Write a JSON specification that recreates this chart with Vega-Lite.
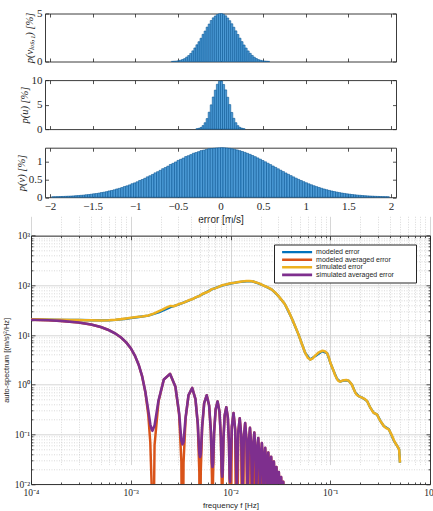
{
"$schema":"https://vega.github.io/schema/vega-lite/v6.json",
"background":"white",
"padding":{"left":2,"top":7.5,"right":0,"bottom":0},
"spacing":18.6,
"bounds":"flush",
"config":{
"view":{"stroke":null},
"legend":{"rowPadding":0.6,"clipHeight":6},
"axis":{"domainColor":"#262626","domainWidth":0.9,"tickColor":"#262626","tickWidth":0.8,"labelColor":"#262626","titleColor":"#262626","labelFont":"Liberation Serif","titleFont":"Liberation Serif","titleFontWeight":"normal","labelFlush":false,"labelOverlap":false,"grid":false}
},
"datasets":{
"h1":[{"x":-0.564,"p":0.015},{"x":-0.54,"p":0.03},{"x":-0.516,"p":0.045},{"x":-0.492,"p":0.08},{"x":-0.468,"p":0.13},{"x":-0.444,"p":0.21},{"x":-0.42,"p":0.30},{"x":-0.396,"p":0.46},{"x":-0.372,"p":0.62},{"x":-0.348,"p":0.84},{"x":-0.324,"p":1.11},{"x":-0.3,"p":1.41},{"x":-0.276,"p":1.74},{"x":-0.252,"p":2.06},{"x":-0.228,"p":2.42},{"x":-0.204,"p":2.83},{"x":-0.18,"p":3.17},{"x":-0.156,"p":3.58},{"x":-0.132,"p":3.90},{"x":-0.108,"p":4.27},{"x":-0.084,"p":4.55},{"x":-0.06,"p":4.74},{"x":-0.036,"p":4.89},{"x":-0.012,"p":4.97},{"x":0.012,"p":4.99},{"x":0.036,"p":4.91},{"x":0.06,"p":4.76},{"x":0.084,"p":4.53},{"x":0.108,"p":4.25},{"x":0.132,"p":3.93},{"x":0.156,"p":3.57},{"x":0.18,"p":3.19},{"x":0.204,"p":2.81},{"x":0.228,"p":2.43},{"x":0.252,"p":2.07},{"x":0.276,"p":1.72},{"x":0.3,"p":1.40},{"x":0.324,"p":1.10},{"x":0.348,"p":0.85},{"x":0.372,"p":0.63},{"x":0.396,"p":0.45},{"x":0.42,"p":0.31},{"x":0.444,"p":0.20},{"x":0.468,"p":0.13},{"x":0.492,"p":0.08},{"x":0.516,"p":0.05},{"x":0.54,"p":0.03},{"x":0.564,"p":0.015}],
"h2":[{"x":-0.276,"p":0.07},{"x":-0.252,"p":0.16},{"x":-0.228,"p":0.34},{"x":-0.204,"p":0.72},{"x":-0.18,"p":1.3},{"x":-0.156,"p":2.15},{"x":-0.132,"p":3.45},{"x":-0.108,"p":4.95},{"x":-0.084,"p":6.55},{"x":-0.06,"p":7.95},{"x":-0.036,"p":9.15},{"x":-0.012,"p":9.75},{"x":0.012,"p":9.8},{"x":0.036,"p":9.1},{"x":0.06,"p":8.0},{"x":0.084,"p":6.5},{"x":0.108,"p":5.0},{"x":0.132,"p":3.4},{"x":0.156,"p":2.2},{"x":0.18,"p":1.3},{"x":0.204,"p":0.7},{"x":0.228,"p":0.35},{"x":0.252,"p":0.17},{"x":0.276,"p":0.07}],
"h3":[{"x":-1.965,"p":0.012},{"x":-1.935,"p":0.014},{"x":-1.905,"p":0.016},{"x":-1.875,"p":0.019},{"x":-1.845,"p":0.021},{"x":-1.815,"p":0.025},{"x":-1.785,"p":0.028},{"x":-1.755,"p":0.032},{"x":-1.725,"p":0.036},{"x":-1.695,"p":0.043},{"x":-1.665,"p":0.047},{"x":-1.635,"p":0.053},{"x":-1.605,"p":0.059},{"x":-1.575,"p":0.069},{"x":-1.545,"p":0.075},{"x":-1.515,"p":0.084},{"x":-1.485,"p":0.096},{"x":-1.455,"p":0.104},{"x":-1.425,"p":0.116},{"x":-1.395,"p":0.131},{"x":-1.365,"p":0.142},{"x":-1.335,"p":0.157},{"x":-1.305,"p":0.177},{"x":-1.275,"p":0.190},{"x":-1.245,"p":0.209},{"x":-1.215,"p":0.233},{"x":-1.185,"p":0.250},{"x":-1.155,"p":0.273},{"x":-1.125,"p":0.301},{"x":-1.095,"p":0.322},{"x":-1.065,"p":0.348},{"x":-1.035,"p":0.381},{"x":-1.005,"p":0.405},{"x":-0.975,"p":0.436},{"x":-0.945,"p":0.473},{"x":-0.915,"p":0.501},{"x":-0.885,"p":0.535},{"x":-0.855,"p":0.576},{"x":-0.825,"p":0.607},{"x":-0.795,"p":0.644},{"x":-0.765,"p":0.688},{"x":-0.735,"p":0.721},{"x":-0.705,"p":0.760},{"x":-0.675,"p":0.806},{"x":-0.645,"p":0.839},{"x":-0.615,"p":0.878},{"x":-0.585,"p":0.925},{"x":-0.555,"p":0.957},{"x":-0.525,"p":0.996},{"x":-0.495,"p":1.041},{"x":-0.465,"p":1.071},{"x":-0.435,"p":1.106},{"x":-0.405,"p":1.149},{"x":-0.375,"p":1.174},{"x":-0.345,"p":1.205},{"x":-0.315,"p":1.243},{"x":-0.285,"p":1.263},{"x":-0.255,"p":1.288},{"x":-0.225,"p":1.318},{"x":-0.195,"p":1.331},{"x":-0.165,"p":1.349},{"x":-0.135,"p":1.371},{"x":-0.105,"p":1.378},{"x":-0.075,"p":1.384},{"x":-0.045,"p":1.392},{"x":-0.015,"p":1.396},{"x":0.015,"p":1.400},{"x":0.045,"p":1.397},{"x":0.075,"p":1.390},{"x":0.105,"p":1.381},{"x":0.135,"p":1.369},{"x":0.165,"p":1.354},{"x":0.195,"p":1.337},{"x":0.225,"p":1.316},{"x":0.255,"p":1.293},{"x":0.285,"p":1.268},{"x":0.315,"p":1.240},{"x":0.345,"p":1.211},{"x":0.375,"p":1.179},{"x":0.405,"p":1.146},{"x":0.435,"p":1.111},{"x":0.465,"p":1.075},{"x":0.495,"p":1.038},{"x":0.525,"p":1.000},{"x":0.555,"p":0.961},{"x":0.585,"p":0.922},{"x":0.615,"p":0.882},{"x":0.645,"p":0.843},{"x":0.675,"p":0.803},{"x":0.705,"p":0.763},{"x":0.735,"p":0.724},{"x":0.765,"p":0.685},{"x":0.795,"p":0.647},{"x":0.825,"p":0.610},{"x":0.855,"p":0.574},{"x":0.885,"p":0.538},{"x":0.915,"p":0.504},{"x":0.945,"p":0.471},{"x":0.975,"p":0.439},{"x":1.005,"p":0.408},{"x":1.035,"p":0.379},{"x":1.065,"p":0.351},{"x":1.095,"p":0.324},{"x":1.125,"p":0.299},{"x":1.155,"p":0.275},{"x":1.185,"p":0.252},{"x":1.215,"p":0.231},{"x":1.245,"p":0.211},{"x":1.275,"p":0.192},{"x":1.305,"p":0.175},{"x":1.335,"p":0.159},{"x":1.365,"p":0.144},{"x":1.395,"p":0.130},{"x":1.425,"p":0.117},{"x":1.455,"p":0.106},{"x":1.485,"p":0.095},{"x":1.515,"p":0.085},{"x":1.545,"p":0.076},{"x":1.575,"p":0.068},{"x":1.605,"p":0.060},{"x":1.635,"p":0.054},{"x":1.665,"p":0.048},{"x":1.695,"p":0.042},{"x":1.725,"p":0.037},{"x":1.755,"p":0.033},{"x":1.785,"p":0.029},{"x":1.815,"p":0.025},{"x":1.845,"p":0.022},{"x":1.875,"p":0.019},{"x":1.905,"p":0.017},{"x":1.935,"p":0.015},{"x":1.965,"p":0.013}],
"spec":[
{"s":"A","f":0.0001,"v":20.5},{"s":"A","f":0.00015,"v":20.35},{"s":"A","f":0.0002,"v":20.2},{"s":"A","f":0.0003,"v":20.0},{"s":"A","f":0.0004,"v":19.8},{"s":"A","f":0.0005,"v":19.75},{"s":"A","f":0.0006,"v":19.85},{"s":"A","f":0.0007,"v":20.2},{"s":"A","f":0.0008,"v":20.7},{"s":"A","f":0.0009,"v":21.3},{"s":"A","f":0.001,"v":21.9},{"s":"A","f":0.0012,"v":23.0},{"s":"A","f":0.0015,"v":24.6},{"s":"A","f":0.0019,"v":28.5},{"s":"A","f":0.0022,"v":32.5},{"s":"A","f":0.0025,"v":36.5},{"s":"A","f":0.003,"v":41},{"s":"A","f":0.0038,"v":49},{"s":"A","f":0.0045,"v":57},{"s":"A","f":0.0052,"v":66},{"s":"A","f":0.0065,"v":83},{"s":"A","f":0.0082,"v":99},{"s":"A","f":0.01,"v":109},{"s":"A","f":0.012,"v":116},{"s":"A","f":0.0145,"v":121},{"s":"A","f":0.0165,"v":121},{"s":"A","f":0.019,"v":110},{"s":"A","f":0.022,"v":97},{"s":"A","f":0.026,"v":82},{"s":"A","f":0.03,"v":62},{"s":"A","f":0.035,"v":42},{"s":"A","f":0.041,"v":22},{"s":"A","f":0.048,"v":10.3},{"s":"A","f":0.056,"v":4.4},{"s":"A","f":0.063,"v":3.2},{"s":"A","f":0.071,"v":3.8},{"s":"A","f":0.083,"v":4.7},{"s":"A","f":0.093,"v":4.3},{"s":"A","f":0.1,"v":2.8},{"s":"A","f":0.108,"v":1.9},{"s":"A","f":0.117,"v":1.3},{"s":"A","f":0.126,"v":1.15},{"s":"A","f":0.137,"v":1.22},{"s":"A","f":0.153,"v":1.2},{"s":"A","f":0.165,"v":1.0},{"s":"A","f":0.178,"v":0.7},{"s":"A","f":0.193,"v":0.59},{"s":"A","f":0.208,"v":0.55},{"s":"A","f":0.234,"v":0.47},{"s":"A","f":0.253,"v":0.34},{"s":"A","f":0.273,"v":0.27},{"s":"A","f":0.295,"v":0.25},{"s":"A","f":0.319,"v":0.185},{"s":"A","f":0.344,"v":0.147},{"s":"A","f":0.387,"v":0.126},{"s":"A","f":0.436,"v":0.073},{"s":"A","f":0.47,"v":0.058},{"s":"A","f":0.49,"v":0.05},{"s":"A","f":0.5,"v":0.027},
{"s":"B","f":0.0001,"v":20.25},{"s":"B","f":0.00015,"v":19.8},{"s":"B","f":0.0002,"v":19.24},{"s":"B","f":0.0003,"v":17.92},{"s":"B","f":0.0004,"v":16.25},{"s":"B","f":0.0005,"v":14.51},{"s":"B","f":0.0006,"v":12.62},{"s":"B","f":0.0007,"v":10.74},{"s":"B","f":0.0008,"v":8.9},{"s":"B","f":0.0009,"v":7.11},{"s":"B","f":0.001,"v":5.42},{"s":"B","f":0.0011,"v":3.85},{"s":"B","f":0.0012,"v":2.52},{"s":"B","f":0.0013,"v":1.472},{"s":"B","f":0.0014,"v":0.715},{"s":"B","f":0.0015,"v":0.241},{"s":"B","f":0.00157,"v":0.0684},{"s":"B","f":0.00162,"v":0.00942},{"s":"B","f":0.00165,"v":0.00001},
{"s":"B","f":0.0017325,"v":0.0607},{"s":"B","f":0.0018975,"v":0.458},{"s":"B","f":0.002145,"v":1.267},{"s":"B","f":0.002475,"v":1.653},{"s":"B","f":0.002805,"v":0.906},{"s":"B","f":0.0030525,"v":0.2526},{"s":"B","f":0.0032175,"v":0.028},{"s":"B","f":0.0033,"v":0.00001},
{"s":"B","f":0.0033825,"v":0.0266},{"s":"B","f":0.0035475,"v":0.21},{"s":"B","f":0.003795,"v":0.614},{"s":"B","f":0.004125,"v":0.859},{"s":"B","f":0.004455,"v":0.514},{"s":"B","f":0.0047025,"v":0.153},{"s":"B","f":0.0048675,"v":0.0175},{"s":"B","f":0.00495,"v":0.00001},
{"s":"B","f":0.0050325,"v":0.01706},{"s":"B","f":0.0051975,"v":0.1389},{"s":"B","f":0.005445,"v":0.4232},{"s":"B","f":0.005775,"v":0.612},{"s":"B","f":0.006105,"v":0.38},{"s":"B","f":0.0063525,"v":0.1148},{"s":"B","f":0.0065175,"v":0.01319},{"s":"B","f":0.0066,"v":0.00001},
{"s":"B","f":0.0066825,"v":0.01278},{"s":"B","f":0.0068475,"v":0.1043},{"s":"B","f":0.007095,"v":0.3192},{"s":"B","f":0.007425,"v":0.4603},{"s":"B","f":0.007755,"v":0.2852},{"s":"B","f":0.0080025,"v":0.0866},{"s":"B","f":0.0081675,"v":0.01002},{"s":"B","f":0.00825,"v":0.00001},
{"s":"B","f":0.0083325,"v":0.00972},{"s":"B","f":0.0084975,"v":0.0795},{"s":"B","f":0.008745,"v":0.2432},{"s":"B","f":0.009075,"v":0.3517},{"s":"B","f":0.009405,"v":0.2174},{"s":"B","f":0.0096525,"v":0.0656},{"s":"B","f":0.0098175,"v":0.0076},{"s":"B","f":0.0099,"v":0.00001},
{"s":"B","f":0.0103125,"v":0.1427},{"s":"B","f":0.010725,"v":0.2686},{"s":"B","f":0.0111375,"v":0.1262},{"s":"B","f":0.01155,"v":0.00001},
{"s":"B","f":0.0119625,"v":0.1118},{"s":"B","f":0.012375,"v":0.2107},{"s":"B","f":0.0127875,"v":0.0995},{"s":"B","f":0.0132,"v":0.00001},
{"s":"B","f":0.0136125,"v":0.089},{"s":"B","f":0.014025,"v":0.169},{"s":"B","f":0.0144375,"v":0.0801},{"s":"B","f":0.01485,"v":0.00001},
{"s":"B","f":0.0152625,"v":0.0716},{"s":"B","f":0.015675,"v":0.1358},{"s":"B","f":0.0160875,"v":0.0645},{"s":"B","f":0.0165,"v":0.00001},
{"s":"B","f":0.0169125,"v":0.0579},{"s":"B","f":0.017325,"v":0.1084},{"s":"B","f":0.0177375,"v":0.0509},{"s":"B","f":0.01815,"v":0.00001},
{"s":"B","f":0.0185625,"v":0.0448},{"s":"B","f":0.018975,"v":0.0843},{"s":"B","f":0.0193875,"v":0.0396},{"s":"B","f":0.0198,"v":0.00001},
{"s":"B","f":0.0202125,"v":0.0354},{"s":"B","f":0.020625,"v":0.0668},{"s":"B","f":0.0210375,"v":0.0315},{"s":"B","f":0.02145,"v":0.00001},
{"s":"B","f":0.0218625,"v":0.0283},{"s":"B","f":0.022275,"v":0.0534},{"s":"B","f":0.0226875,"v":0.0252},{"s":"B","f":0.0231,"v":0.00001},
{"s":"B","f":0.0235125,"v":0.0227},{"s":"B","f":0.023925,"v":0.0429},{"s":"B","f":0.0243375,"v":0.0204},{"s":"B","f":0.02475,"v":0.00001},
{"s":"B","f":0.0251625,"v":0.0186},{"s":"B","f":0.025575,"v":0.0352},{"s":"B","f":0.0259875,"v":0.0166},{"s":"B","f":0.0264,"v":0.00001},
{"s":"B","f":0.0268125,"v":0.0151},{"s":"B","f":0.027225,"v":0.0283},{"s":"B","f":0.0276375,"v":0.0132},{"s":"B","f":0.02805,"v":0.00001},
{"s":"B","f":0.0284625,"v":0.01175},{"s":"B","f":0.028875,"v":0.022},{"s":"B","f":0.0292875,"v":0.01029},{"s":"B","f":0.0297,"v":0.00001},
{"s":"B","f":0.0301125,"v":0.00928},{"s":"B","f":0.030525,"v":0.01747},{"s":"B","f":0.0309375,"v":0.00821},{"s":"B","f":0.03135,"v":0.00001},
{"s":"B","f":0.0317625,"v":0.00738},{"s":"B","f":0.032175,"v":0.01386},{"s":"B","f":0.0325875,"v":0.00649},{"s":"B","f":0.033,"v":0.00001},
{"s":"B","f":0.0334125,"v":0.00593},{"s":"B","f":0.033825,"v":0.01109},{"s":"B","f":0.0342375,"v":0.00518},{"s":"B","f":0.03465,"v":0.00001},
{"s":"C","f":0.0001,"v":20.7},{"s":"C","f":0.00013,"v":20.5},{"s":"C","f":0.00017,"v":20.4},{"s":"C","f":0.0002,"v":20.3},{"s":"C","f":0.00025,"v":20.1},{"s":"C","f":0.0003,"v":20.0},{"s":"C","f":0.00035,"v":19.9},{"s":"C","f":0.0004,"v":19.9},{"s":"C","f":0.0005,"v":19.7},{"s":"C","f":0.0006,"v":19.9},{"s":"C","f":0.0007,"v":20.3},{"s":"C","f":0.0008,"v":20.9},{"s":"C","f":0.0009,"v":21.6},{"s":"C","f":0.001,"v":22.3},{"s":"C","f":0.0011,"v":22.8},{"s":"C","f":0.0012,"v":23.3},{"s":"C","f":0.0013,"v":23.6},{"s":"C","f":0.0015,"v":24.8},{"s":"C","f":0.0017,"v":27.0},{"s":"C","f":0.0019,"v":30.0},{"s":"C","f":0.0021,"v":33.0},{"s":"C","f":0.0023,"v":36.0},{"s":"C","f":0.0025,"v":38.5},{"s":"C","f":0.0027,"v":38.0},{"s":"C","f":0.003,"v":41.5},{"s":"C","f":0.0034,"v":45},{"s":"C","f":0.0038,"v":50},{"s":"C","f":0.0042,"v":53},{"s":"C","f":0.0045,"v":58},{"s":"C","f":0.0049,"v":61},{"s":"C","f":0.0052,"v":67},{"s":"C","f":0.0057,"v":72},{"s":"C","f":0.0061,"v":76},{"s":"C","f":0.0065,"v":84},{"s":"C","f":0.007,"v":87},{"s":"C","f":0.0075,"v":92},{"s":"C","f":0.0082,"v":100},{"s":"C","f":0.009,"v":104},{"s":"C","f":0.01,"v":110},{"s":"C","f":0.011,"v":113},{"s":"C","f":0.012,"v":117},{"s":"C","f":0.013,"v":119},{"s":"C","f":0.0145,"v":122},{"s":"C","f":0.0155,"v":123},{"s":"C","f":0.0165,"v":121},{"s":"C","f":0.0175,"v":117},{"s":"C","f":0.019,"v":111},{"s":"C","f":0.0205,"v":104},{"s":"C","f":0.022,"v":97},{"s":"C","f":0.024,"v":90},{"s":"C","f":0.026,"v":82},{"s":"C","f":0.028,"v":72},{"s":"C","f":0.03,"v":62},{"s":"C","f":0.0325,"v":51},{"s":"C","f":0.035,"v":42},{"s":"C","f":0.038,"v":31},{"s":"C","f":0.041,"v":22},{"s":"C","f":0.0445,"v":15},{"s":"C","f":0.048,"v":10.3},{"s":"C","f":0.052,"v":6.6},{"s":"C","f":0.056,"v":4.4},{"s":"C","f":0.0595,"v":3.5},{"s":"C","f":0.063,"v":3.2},{"s":"C","f":0.067,"v":3.4},{"s":"C","f":0.071,"v":3.9},{"s":"C","f":0.076,"v":4.4},{"s":"C","f":0.083,"v":4.8},{"s":"C","f":0.088,"v":4.7},{"s":"C","f":0.093,"v":4.3},{"s":"C","f":0.097,"v":3.5},{"s":"C","f":0.1,"v":2.8},{"s":"C","f":0.104,"v":2.3},{"s":"C","f":0.108,"v":1.9},{"s":"C","f":0.112,"v":1.55},{"s":"C","f":0.117,"v":1.3},{"s":"C","f":0.121,"v":1.18},{"s":"C","f":0.126,"v":1.15},{"s":"C","f":0.131,"v":1.2},{"s":"C","f":0.137,"v":1.23},{"s":"C","f":0.145,"v":1.24},{"s":"C","f":0.153,"v":1.2},{"s":"C","f":0.159,"v":1.1},{"s":"C","f":0.165,"v":1.0},{"s":"C","f":0.171,"v":0.84},{"s":"C","f":0.178,"v":0.7},{"s":"C","f":0.185,"v":0.62},{"s":"C","f":0.193,"v":0.59},{"s":"C","f":0.2,"v":0.57},{"s":"C","f":0.208,"v":0.55},{"s":"C","f":0.22,"v":0.52},{"s":"C","f":0.234,"v":0.47},{"s":"C","f":0.243,"v":0.4},{"s":"C","f":0.253,"v":0.34},{"s":"C","f":0.263,"v":0.3},{"s":"C","f":0.273,"v":0.27},{"s":"C","f":0.284,"v":0.26},{"s":"C","f":0.295,"v":0.25},{"s":"C","f":0.307,"v":0.21},{"s":"C","f":0.319,"v":0.185},{"s":"C","f":0.331,"v":0.165},{"s":"C","f":0.344,"v":0.147},{"s":"C","f":0.36,"v":0.135},{"s":"C","f":0.374,"v":0.13},{"s":"C","f":0.387,"v":0.125},{"s":"C","f":0.41,"v":0.1},{"s":"C","f":0.436,"v":0.075},{"s":"C","f":0.455,"v":0.064},{"s":"C","f":0.47,"v":0.058},{"s":"C","f":0.49,"v":0.05},{"s":"C","f":0.5,"v":0.027},
{"s":"D","f":0.0001,"v":20.25},{"s":"D","f":0.00015,"v":19.8},{"s":"D","f":0.0002,"v":19.24},{"s":"D","f":0.0003,"v":17.92},{"s":"D","f":0.0004,"v":16.25},{"s":"D","f":0.0005,"v":14.51},{"s":"D","f":0.0006,"v":12.62},{"s":"D","f":0.0007,"v":10.74},{"s":"D","f":0.0008,"v":8.9},{"s":"D","f":0.0009,"v":7.11},{"s":"D","f":0.001,"v":5.42},{"s":"D","f":0.0011,"v":3.85},{"s":"D","f":0.0012,"v":2.52},{"s":"D","f":0.0013,"v":1.48},{"s":"D","f":0.0014,"v":0.72},{"s":"D","f":0.0015,"v":0.3},{"s":"D","f":0.00157,"v":0.16},{"s":"D","f":0.00162,"v":0.125},{"s":"D","f":0.00165,"v":0.118},{"s":"D","f":0.0017325,"v":0.15},{"s":"D","f":0.0018975,"v":0.48},{"s":"D","f":0.002145,"v":1.267},{"s":"D","f":0.002475,"v":1.653},{"s":"D","f":0.002805,"v":0.906},{"s":"D","f":0.0030525,"v":0.27},{"s":"D","f":0.0032175,"v":0.075},{"s":"D","f":0.0033,"v":0.063},{"s":"D","f":0.0033825,"v":0.07},{"s":"D","f":0.0035475,"v":0.22},{"s":"D","f":0.003795,"v":0.614},{"s":"D","f":0.004125,"v":0.859},{"s":"D","f":0.004455,"v":0.514},{"s":"D","f":0.0047025,"v":0.16},{"s":"D","f":0.0048675,"v":0.042},{"s":"D","f":0.00495,"v":0.035},{"s":"D","f":0.0050325,"v":0.04},{"s":"D","f":0.0051975,"v":0.145},{"s":"D","f":0.005445,"v":0.4232},{"s":"D","f":0.005775,"v":0.612},{"s":"D","f":0.006105,"v":0.38},{"s":"D","f":0.0063525,"v":0.12},{"s":"D","f":0.0065175,"v":0.027},{"s":"D","f":0.0066,"v":0.022},{"s":"D","f":0.0066825,"v":0.026},{"s":"D","f":0.0068475,"v":0.108},{"s":"D","f":0.007095,"v":0.3192},{"s":"D","f":0.007425,"v":0.4603},{"s":"D","f":0.007755,"v":0.2852},{"s":"D","f":0.0080025,"v":0.09},{"s":"D","f":0.0081675,"v":0.018},{"s":"D","f":0.00825,"v":0.014},{"s":"D","f":0.0083325,"v":0.017},{"s":"D","f":0.0084975,"v":0.082},{"s":"D","f":0.008745,"v":0.2432},{"s":"D","f":0.009075,"v":0.3517},{"s":"D","f":0.009405,"v":0.2174},{"s":"D","f":0.0096525,"v":0.068},{"s":"D","f":0.0098175,"v":0.013},{"s":"D","f":0.0099,"v":0.011},
{"s":"D","f":0.0103125,"v":0.1427},{"s":"D","f":0.010725,"v":0.2686},{"s":"D","f":0.0111375,"v":0.1262},{"s":"D","f":0.01155,"v":0.008},
{"s":"D","f":0.0119625,"v":0.1118},{"s":"D","f":0.012375,"v":0.2107},{"s":"D","f":0.0127875,"v":0.0995},{"s":"D","f":0.0132,"v":0.007},
{"s":"D","f":0.0136125,"v":0.089},{"s":"D","f":0.014025,"v":0.169},{"s":"D","f":0.0144375,"v":0.0801},{"s":"D","f":0.01485,"v":0.007},
{"s":"D","f":0.0152625,"v":0.0716},{"s":"D","f":0.015675,"v":0.1358},{"s":"D","f":0.0160875,"v":0.0645},{"s":"D","f":0.0165,"v":0.007},
{"s":"D","f":0.0169125,"v":0.0579},{"s":"D","f":0.017325,"v":0.1084},{"s":"D","f":0.0177375,"v":0.0509},{"s":"D","f":0.01815,"v":0.007},
{"s":"D","f":0.0185625,"v":0.0448},{"s":"D","f":0.018975,"v":0.0843},{"s":"D","f":0.0193875,"v":0.0396},{"s":"D","f":0.0198,"v":0.007},
{"s":"D","f":0.0202125,"v":0.0354},{"s":"D","f":0.020625,"v":0.0668},{"s":"D","f":0.0210375,"v":0.0315},{"s":"D","f":0.02145,"v":0.007},
{"s":"D","f":0.0218625,"v":0.0283},{"s":"D","f":0.022275,"v":0.0534},{"s":"D","f":0.0226875,"v":0.0252},{"s":"D","f":0.0231,"v":0.007},
{"s":"D","f":0.0235125,"v":0.0227},{"s":"D","f":0.023925,"v":0.0429},{"s":"D","f":0.0243375,"v":0.0204},{"s":"D","f":0.02475,"v":0.007},
{"s":"D","f":0.0251625,"v":0.0186},{"s":"D","f":0.025575,"v":0.0352},{"s":"D","f":0.0259875,"v":0.0166},{"s":"D","f":0.0264,"v":0.007},
{"s":"D","f":0.0268125,"v":0.0151},{"s":"D","f":0.027225,"v":0.0283},{"s":"D","f":0.0276375,"v":0.0132},{"s":"D","f":0.02805,"v":0.007},
{"s":"D","f":0.0284625,"v":0.01175},{"s":"D","f":0.028875,"v":0.022},{"s":"D","f":0.0292875,"v":0.01029},{"s":"D","f":0.0297,"v":0.007},
{"s":"D","f":0.0301125,"v":0.00928},{"s":"D","f":0.030525,"v":0.01747},{"s":"D","f":0.0309375,"v":0.00821},{"s":"D","f":0.03135,"v":0.007},
{"s":"D","f":0.0317625,"v":0.00738},{"s":"D","f":0.032175,"v":0.01386},{"s":"D","f":0.0325875,"v":0.00649},{"s":"D","f":0.033,"v":0.006},
{"s":"D","f":0.0334125,"v":0.00593},{"s":"D","f":0.033825,"v":0.01109},{"s":"D","f":0.0342375,"v":0.00518},{"s":"D","f":0.03465,"v":0.005}
]
},
"vconcat":[
{
"width":365,"height":48,
"data":{"name":"h1"},
"layer":[
{"mark":{"type":"bar","orient":"vertical","width":2.1,"fill":"#4d9bd6","stroke":"#0a5796","strokeWidth":0.6},
"encoding":{
"x":{"field":"x","type":"quantitative","scale":{"domain":[-2,2],"nice":false,"zero":false,"range":[14,365]},"axis":{"orient":"bottom","values":[-2,-1.5,-1,-0.5,0,0.5,1,1.5,2],"labels":false,"tickSize":-3.5,"title":null}},
"y":{"field":"p","type":"quantitative","scale":{"domain":[0,5],"nice":false},"axis":{"orient":"left","offset":-14,"values":[0,5],"labelExpr":"datum.value+''","tickSize":-3.5,"labelFontSize":11,"labelPadding":6.5,"title":"p(vₗₒₛ,₁) [%]","titleFontSize":10.5,"titleFontStyle":"italic","titlePadding":2}}
}},
{"mark":{"type":"point","opacity":0},
"encoding":{
"x":{"field":"x","type":"quantitative","scale":{"domain":[-2,2],"nice":false,"zero":false,"range":[14,365]},"axis":{"orient":"top","values":[-2,-1.5,-1,-0.5,0,0.5,1,1.5,2],"labels":false,"tickSize":-3.5,"title":null}},
"y":{"field":"p","type":"quantitative","scale":{"domain":[0,5],"nice":false},"axis":{"orient":"right","values":[0,5],"labels":false,"tickSize":-3.5,"title":null}}
}}
],
"resolve":{"axis":{"x":"independent","y":"independent"}}
},
{
"width":365,"height":49,
"data":{"name":"h2"},
"layer":[
{"mark":{"type":"bar","orient":"vertical","width":2.1,"fill":"#4d9bd6","stroke":"#0a5796","strokeWidth":0.6},
"encoding":{
"x":{"field":"x","type":"quantitative","scale":{"domain":[-2,2],"nice":false,"zero":false,"range":[14,365]},"axis":{"orient":"bottom","values":[-2,-1.5,-1,-0.5,0,0.5,1,1.5,2],"labels":false,"tickSize":-3.5,"title":null}},
"y":{"field":"p","type":"quantitative","scale":{"domain":[0,10],"nice":false},"axis":{"orient":"left","offset":-14,"values":[0,5,10],"labelExpr":"datum.value+''","tickSize":-3.5,"labelFontSize":11,"labelPadding":6.5,"title":"p(u) [%]","titleFontSize":10.5,"titleFontStyle":"italic","titlePadding":2}}
}},
{"mark":{"type":"point","opacity":0},
"encoding":{
"x":{"field":"x","type":"quantitative","scale":{"domain":[-2,2],"nice":false,"zero":false,"range":[14,365]},"axis":{"orient":"top","values":[-2,-1.5,-1,-0.5,0,0.5,1,1.5,2],"labels":false,"tickSize":-3.5,"title":null}},
"y":{"field":"p","type":"quantitative","scale":{"domain":[0,10],"nice":false},"axis":{"orient":"right","values":[0,5,10],"labels":false,"tickSize":-3.5,"title":null}}
}}
],
"resolve":{"axis":{"x":"independent","y":"independent"}}
},
{
"width":365,"height":49.5,
"data":{"name":"h3"},
"layer":[
{"mark":{"type":"bar","orient":"vertical","width":2.6,"fill":"#4d9bd6","stroke":"#0a5796","strokeWidth":0.6},
"encoding":{
"x":{"field":"x","type":"quantitative","scale":{"domain":[-2,2],"nice":false,"zero":false,"range":[14,365]},"axis":{"orient":"bottom","values":[-2,-1.5,-1,-0.5,0,0.5,1,1.5,2],"labelExpr":"replace(datum.value+'','-','−')","labelFontSize":11,"labelPadding":6.8,"tickSize":-3.5,"title":"error [m/s]","titleFont":"Liberation Sans","titleFontSize":10,"titlePadding":3}},
"y":{"field":"p","type":"quantitative","scale":{"domain":[0,1.4],"nice":false},"axis":{"orient":"left","offset":-14,"values":[0,0.5,1],"labelExpr":"datum.value+''","tickSize":-3.5,"labelFontSize":11,"labelPadding":6.5,"title":"p(v) [%]","titleFontSize":10.5,"titleFontStyle":"italic","titlePadding":2}}
}},
{"mark":{"type":"point","opacity":0},
"encoding":{
"x":{"field":"x","type":"quantitative","scale":{"domain":[-2,2],"nice":false,"zero":false,"range":[14,365]},"axis":{"orient":"top","values":[-2,-1.5,-1,-0.5,0,0.5,1,1.5,2],"labels":false,"tickSize":-3.5,"title":null}},
"y":{"field":"p","type":"quantitative","scale":{"domain":[0,1.4],"nice":false},"axis":{"orient":"right","values":[0,0.5,1],"labels":false,"tickSize":-3.5,"title":null}}
}}
],
"resolve":{"axis":{"x":"independent","y":"independent"}}
},
{
"width":399,"height":267.7,
"data":{"name":"spec"},
"layer":[
{"mark":{"type":"line","clip":true,"strokeJoin":"round"},
"encoding":{
"x":{"field":"f","type":"quantitative","scale":{"type":"log","domain":[0.0001,1],"nice":false},"axis":{"orient":"bottom","values":[0.0001,0.0002,0.0003,0.0004,0.0005,0.0006,0.0007,0.0008,0.0009,0.001,0.002,0.003,0.004,0.005,0.006,0.007,0.008,0.009,0.01,0.02,0.03,0.04,0.05,0.06,0.07,0.08,0.09,0.1,0.2,0.3,0.4,0.5,0.6,0.7,0.8,0.9,1],"labelExpr":"datum.value==0.0001?'10⁻⁴':datum.value==0.001?'10⁻³':datum.value==0.01?'10⁻²':datum.value==0.1?'10⁻¹':datum.value==1?'10⁰':''","labelFontSize":9.5,"labelPadding":7.5,"tickSize":{"condition":{"test":"indexof([0.0001,0.001,0.01,0.1,1],datum.value)>=0","value":-4},"value":-2},"grid":true,"gridColor":{"condition":{"test":"indexof([0.0001,0.001,0.01,0.1,1],datum.value)>=0","value":"#d6d6d6"},"value":"#c8c8c8"},"gridDash":{"condition":{"test":"indexof([0.0001,0.001,0.01,0.1,1],datum.value)>=0","value":[]},"value":[1,1.5]},"gridWidth":{"condition":{"test":"indexof([0.0001,0.001,0.01,0.1,1],datum.value)>=0","value":1},"value":0.7},"title":"frequency f [Hz]","titleFont":"Liberation Sans","titleFontSize":8,"titlePadding":2}},
"y":{"field":"v","type":"quantitative","scale":{"type":"log","domain":[0.01,1000],"nice":false,"range":[267.7,19.4]},"axis":{"orient":"left","values":[0.01,0.02,0.03,0.04,0.05,0.06,0.07,0.08,0.09,0.1,0.2,0.3,0.4,0.5,0.6,0.7,0.8,0.9,1,2,3,4,5,6,7,8,9,10,20,30,40,50,60,70,80,90,100,200,300,400,500,600,700,800,900,1000],"labelExpr":"datum.value==0.01?'10⁻²':datum.value==0.1?'10⁻¹':datum.value==1?'10⁰':datum.value==10?'10¹':datum.value==100?'10²':datum.value==1000?'10³':''","labelFontSize":9.5,"labelPadding":5.5,"tickSize":{"condition":{"test":"indexof([0.01,0.1,1,10,100,1000],datum.value)>=0","value":-4},"value":-2},"grid":true,"gridColor":{"condition":{"test":"indexof([0.01,0.1,1,10,100,1000],datum.value)>=0","value":"#d6d6d6"},"value":"#c8c8c8"},"gridDash":{"condition":{"test":"indexof([0.01,0.1,1,10,100,1000],datum.value)>=0","value":[]},"value":[1,1.5]},"gridWidth":{"condition":{"test":"indexof([0.01,0.1,1,10,100,1000],datum.value)>=0","value":1},"value":0.7},"title":"auto-spectrum [(m/s)²/Hz]","titleFont":"Liberation Sans","titleFontSize":7.5,"titlePadding":4}},
"color":{"field":"s","type":"nominal","scale":{"domain":["A","B","C","D"],"range":["#0072BD","#D95319","#EDB120","#7E2F8E"]},"legend":{"title":"MMM","titleOrient":"right","titleFontSize":6.8,"titleOpacity":0,"titlePadding":0,"orient":"none","legendX":243,"legendY":231,"fillColor":"white","strokeColor":"#262626","padding":4.6,"symbolType":"M0,0H30","symbolSize":4,"symbolStrokeWidth":2.5,"labelFont":"Liberation Sans","labelFontSize":7,"labelColor":"#262626","labelOffset":30.5,"rowPadding":0.6,"clipHeight":6,"labelExpr":"datum.label=='A'?'modeled error':datum.label=='B'?'modeled averaged error':datum.label=='C'?'simulated error':'simulated averaged error'"}},
"strokeWidth":{"field":"s","type":"nominal","scale":{"domain":["A","B","C","D"],"range":[2.4,2.6,3,2.6]},"legend":null}
}},
{"mark":{"type":"point","opacity":0,"clip":true},
"encoding":{
"x":{"field":"f","type":"quantitative","scale":{"type":"log","domain":[0.0001,1],"nice":false},"axis":{"orient":"top","offset":-19.4,"values":[0.0001,0.0002,0.0003,0.0004,0.0005,0.0006,0.0007,0.0008,0.0009,0.001,0.002,0.003,0.004,0.005,0.006,0.007,0.008,0.009,0.01,0.02,0.03,0.04,0.05,0.06,0.07,0.08,0.09,0.1,0.2,0.3,0.4,0.5,0.6,0.7,0.8,0.9,1],"labels":false,"tickSize":{"condition":{"test":"indexof([0.0001,0.001,0.01,0.1,1],datum.value)>=0","value":-4},"value":-2},"title":null}},
"y":{"field":"v","type":"quantitative","scale":{"type":"log","domain":[0.01,1000],"nice":false,"range":[267.7,19.4]},"axis":{"orient":"right","values":[0.01,0.02,0.03,0.04,0.05,0.06,0.07,0.08,0.09,0.1,0.2,0.3,0.4,0.5,0.6,0.7,0.8,0.9,1,2,3,4,5,6,7,8,9,10,20,30,40,50,60,70,80,90,100,200,300,400,500,600,700,800,900,1000],"labels":false,"tickSize":{"condition":{"test":"indexof([0.01,0.1,1,10,100,1000],datum.value)>=0","value":-4},"value":-2},"title":null}}
}}
],
"resolve":{"axis":{"x":"independent","y":"independent"}}
}
]
}
